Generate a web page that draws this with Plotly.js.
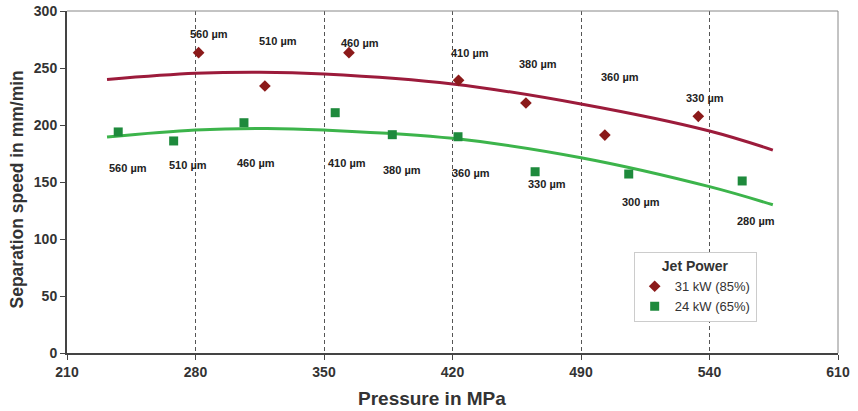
<!DOCTYPE html>
<html>
<head>
<meta charset="utf-8">
<script src="https://cdn.plot.ly/plotly-3.0.1.min.js"></script>
<style>html,body{margin:0;padding:0;background:#fff;}#chart{width:858px;height:411px;}</style>
</head>
<body>
<div id="chart"></div>
<script>
// Axis tick positions (equally spaced) and their printed labels
const tickVals = [210, 280, 350, 420, 490, 560, 630];
const tickLabels = ['210', '280', '350', '420', '490', '540', '610'];

// 31 kW (85%) measurements
const redX = [281.7, 317.8, 363.6, 423.3, 460, 503, 553.9];
const redY = [263.4, 234.2, 263.4, 239.2, 219.3, 191.2, 207.6];
const redLabels = ['560 µm', '510 µm', '460 µm', '410 µm', '380 µm', '360 µm', '330 µm'];

// 24 kW (65%) measurements
const greenX = [237.9, 268.1, 306.4, 356.1, 387.2, 423, 465, 516, 577.8];
const greenY = [193.9, 186, 202, 210.8, 191.5, 189.7, 159, 157, 150.9];
const greenLabels = ['560 µm', '510 µm', '460 µm', '410 µm', '380 µm', '360 µm', '330 µm', '300 µm', '280 µm'];

// Trend curves
const redTrendX = [231.8, 280, 315, 350, 420, 490, 560, 594.5];
const redTrendY = [240, 245.3, 246.3, 244.7, 236, 218.4, 194.7, 178];
const greenTrendX = [231.8, 280, 319, 350, 420, 490, 560, 594.5];
const greenTrendY = [189.5, 195.6, 197, 195.6, 188.3, 171.3, 145.9, 130];

// label placement (pixel-based, converted to data coords)
const redLabelPos = [[209,34.3],[278,41.3],[360,43.3],[470.3,53.3],[538,64],[620,77],[705.3,97.7]];
const greenLabelPos = [[127.7,168.3],[188.3,165.3],[256,163],[346.7,163.3],[401.7,170],[470.7,172.7],[547,184],[640.7,202.3],[755.7,220.7]];

const L = 67, R = 838, T = 11, B = 353;
const xr = [210, 630], yr = [0, 300];
function px2x(p){ return xr[0] + (p - L) / (R - L) * (xr[1] - xr[0]); }
function py2y(p){ return yr[0] + (B - p) / (B - T) * (yr[1] - yr[0]); }

const lblFont = {family: 'Liberation Sans, Arial', size: 11, color: '#222', weight: 'bold'};
const annotations = [];
redLabels.forEach((t, i) => annotations.push({x: px2x(redLabelPos[i][0]), y: py2y(redLabelPos[i][1]), text: t, showarrow: false, font: lblFont}));
greenLabels.forEach((t, i) => annotations.push({x: px2x(greenLabelPos[i][0]), y: py2y(greenLabelPos[i][1]), text: t, showarrow: false, font: lblFont}));

// axis titles
annotations.push({xref: 'paper', yref: 'paper', x: (432 - L) / (R - L), y: (B - 398) / (B - T), xanchor: 'center', yanchor: 'middle', text: 'Pressure in MPa', showarrow: false, font: {family: 'Liberation Sans, Arial', size: 19, color: '#333', weight: 'bold'}});
annotations.push({xref: 'paper', yref: 'paper', x: (17 - L) / (R - L), y: (B - 189.5) / (B - T), xanchor: 'center', yanchor: 'middle', text: 'Separation speed in mm/min', textangle: -90, showarrow: false, font: {family: 'Liberation Sans, Arial', size: 17.5, color: '#333', weight: 'bold'}});

const traces = [
  {x: redTrendX, y: redTrendY, mode: 'lines', line: {shape: 'spline', color: '#9c1b3b', width: 3}, showlegend: false, hoverinfo: 'skip'},
  {x: greenTrendX, y: greenTrendY, mode: 'lines', line: {shape: 'spline', color: '#3cb44b', width: 3}, showlegend: false, hoverinfo: 'skip'},
  {x: redX, y: redY, mode: 'markers', name: '31 kW (85%)', marker: {symbol: 'diamond', size: 9, color: '#8b1a1a'}},
  {x: greenX, y: greenY, mode: 'markers', name: '24 kW (65%)', marker: {symbol: 'square', size: 9, color: '#1e8a3c'}}
];

const layout = {
  width: 858, height: 411,
  margin: {l: L, r: 858 - R, t: T, b: 411 - B},
  paper_bgcolor: '#fff', plot_bgcolor: '#fff',
  showlegend: true,
  font: {family: 'Liberation Sans, Arial', color: '#333'},
  xaxis: {
    range: xr, tickvals: tickVals, ticktext: tickLabels,
    showgrid: true, gridcolor: '#555', griddash: '4px,3px', gridwidth: 1,
    showline: true, linecolor: '#444', linewidth: 2, mirror: false,
    ticks: 'outside', ticklen: 5, tickcolor: '#444', tickwidth: 1,
    tickfont: {size: 14, color: '#333', weight: 'bold'},
    zeroline: false
  },
  yaxis: {
    range: yr, tickvals: [0, 50, 100, 150, 200, 250, 300],
    showgrid: false,
    showline: true, linecolor: '#444', linewidth: 2,
    ticks: 'outside', ticklen: 5, tickcolor: '#444', tickwidth: 1,
    tickfont: {size: 14, color: '#333', weight: 'bold'},
    zeroline: false
  },
  shapes: [
    {type: 'line', xref: 'paper', yref: 'paper', x0: 0, x1: 1, y0: 1, y1: 1, line: {color: '#888', width: 1}},
    {type: 'line', xref: 'paper', yref: 'paper', x0: 1, x1: 1, y0: 0, y1: 1, line: {color: '#888', width: 1}}
  ],
  legend: {
    x: 0.735, y: 0.295, xanchor: 'left', yanchor: 'top',
    bgcolor: '#fff', bordercolor: '#ccc', borderwidth: 1,
    font: {size: 13, color: '#333'},
    title: {text: 'Jet Power', side: 'top center', font: {size: 14, color: '#333', weight: 'bold'}},
    itemwidth: 30, tracegroupgap: 0
  },
  annotations: annotations
};

Plotly.newPlot('chart', traces, layout, {displayModeBar: false, staticPlot: true});
</script>
</body>
</html>
